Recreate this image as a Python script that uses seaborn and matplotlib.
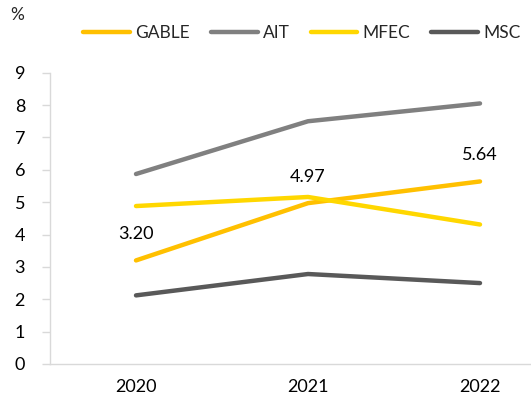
import matplotlib
matplotlib.use("Agg")
import matplotlib.pyplot as plt
import seaborn as sns
import pandas as pd

years = ["2020", "2021", "2022"]
gable = [3.20, 4.97, 5.64]
ait = [5.87, 7.50, 8.05]
mfec = [4.88, 5.16, 4.31]
msc = [2.12, 2.78, 2.50]
series_names = ["GABLE", "AIT", "MFEC", "MSC"]
colors = ["#FFC000", "#808080", "#FFD700", "#595959"]
y_ticks = [0, 1, 2, 3, 4, 5, 6, 7, 8, 9]

rows = []
for name, vals in zip(series_names, [gable, ait, mfec, msc]):
    for yr, v in zip(years, vals):
        rows.append({"year": yr, "value": v, "company": name})
df = pd.DataFrame(rows)

sns.set_theme(style="white")
plt.rcParams["font.family"] = ["Lato", "DejaVu Sans"]

fig = plt.figure(figsize=(5.31, 4.05), dpi=100)
ax = fig.add_axes([50 / 531, 41 / 405, 516 / 531, 291.3 / 405])

sns.lineplot(data=df, x="year", y="value", hue="company", hue_order=series_names,
             palette=colors, linewidth=3.2, ax=ax, legend=True, sort=False)
for line in ax.get_lines():
    line.set_solid_capstyle("round")
    line.set_solid_joinstyle("round")

ax.set_ylim(0, 9)
ax.set_xlim(-0.5, 2.5)
ax.set_yticks(y_ticks)
ax.set_yticklabels([str(t) for t in y_ticks])
ax.set_xticks([-0.5, 0.5, 1.5, 2.5])
ax.set_xticklabels([])
ax.set_xticks([0, 1, 2], minor=True)
ax.set_xticklabels(years, minor=True)
ax.tick_params(axis="x", which="major", length=5, color="#D9D9D9", width=1, direction="out")
ax.tick_params(axis="x", which="minor", length=0, pad=11, labelsize=13, labelcolor="black")
ax.tick_params(axis="y", length=6, color="#D9D9D9", width=1, direction="out", pad=12,
               labelsize=13, labelcolor="black", left=True)
ax.set_xlabel("")
ax.set_ylabel("")
for s in ["top", "right"]:
    ax.spines[s].set_visible(False)
for s in ["left", "bottom"]:
    ax.spines[s].set_color("#D9D9D9")
    ax.spines[s].set_linewidth(1)
ax.grid(False)

for i, v in enumerate(gable):
    ax.annotate(f"{v:.2f}", xy=(i, v), xytext=(0, 19), textcoords="offset points",
                ha="center", va="center", fontsize=13, color="black")

handles, labels = ax.get_legend_handles_labels()
ax.legend_.remove()
fig.legend(handles, labels, loc="center", bbox_to_anchor=(302 / 531, 1 - 33 / 405),
           ncol=4, frameon=False, fontsize=12.5, handlelength=2.7, handletextpad=0.3,
           columnspacing=1.2)

fig.text(10 / 531, 1 - 15 / 405, "%", fontsize=12.5, ha="left", va="center")

fig.savefig("out.png", dpi=100)
